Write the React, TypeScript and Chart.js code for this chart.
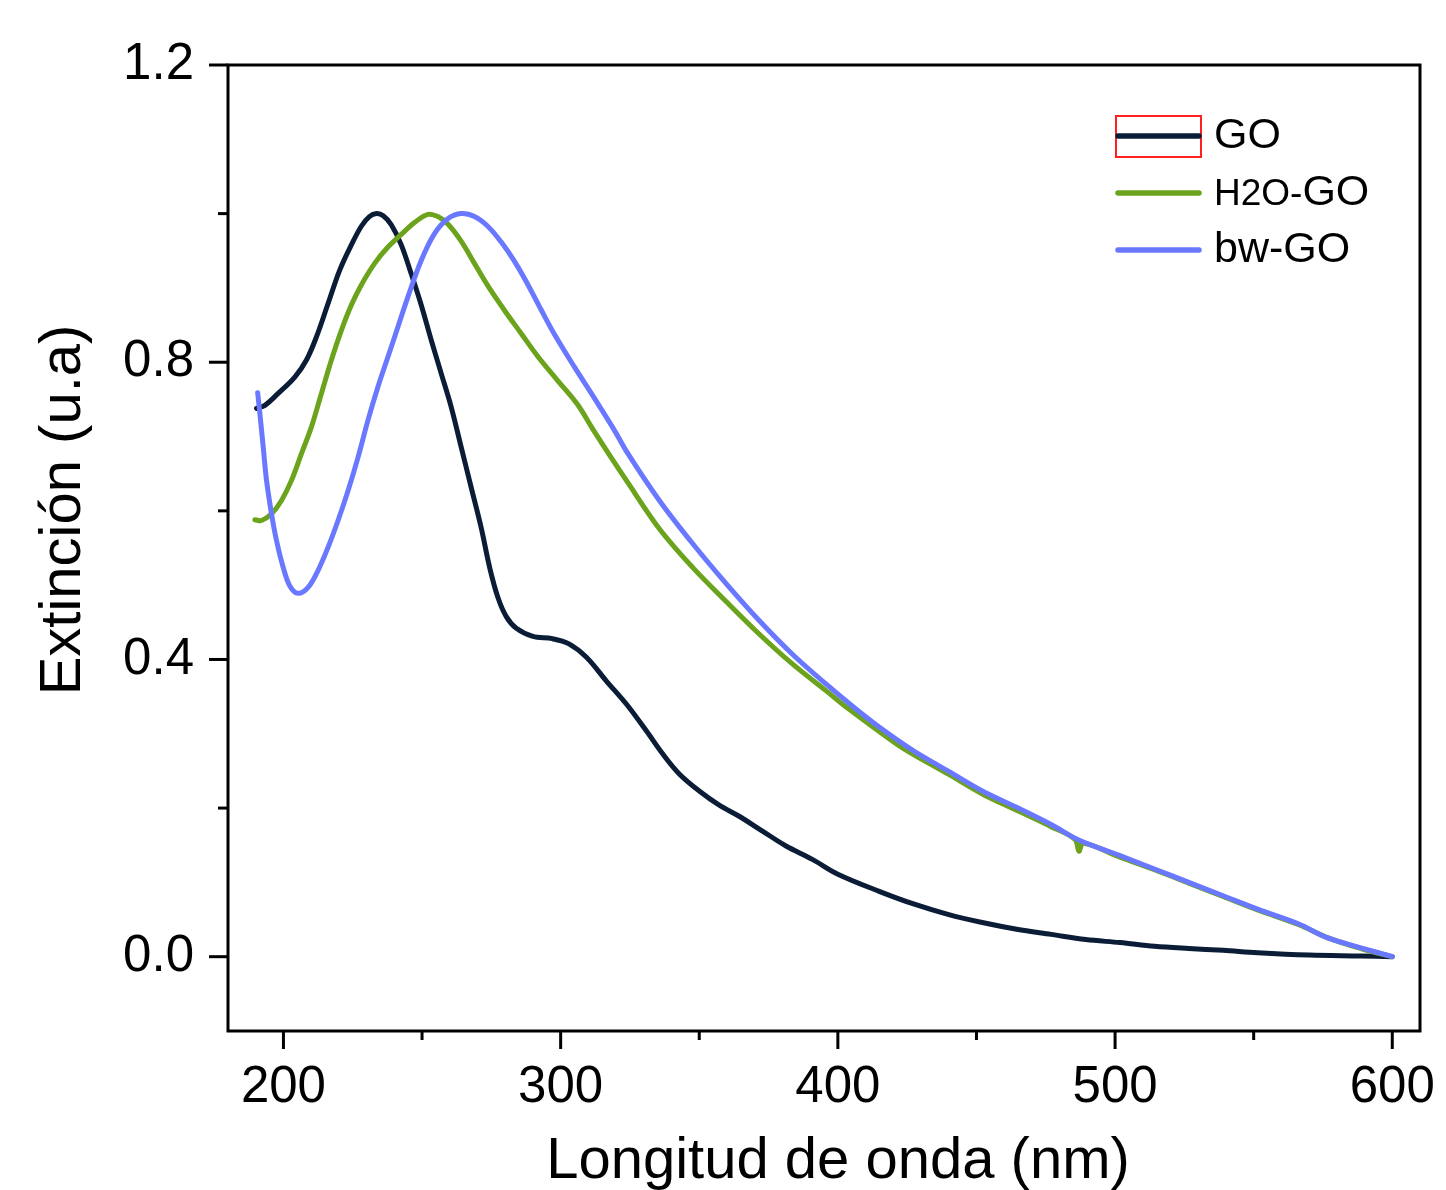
import React, { useEffect, useRef } from 'react';
import { Chart, registerables } from 'chart.js';

Chart.register(...registerables);

const FONT = '"Liberation Sans", Arial, Helvetica, sans-serif';

// Series: GO
const goWavelength = [190.3, 193.3, 198.1, 204.1, 208.3, 211.9, 216.1, 220.3, 224.5, 228.1, 231, 233.6, 236, 238.9, 242.5, 246.1, 249.7, 253.3, 256.9, 260.5, 264.1, 267.7, 271.3, 274.5, 277.5, 280.5, 284, 290, 297, 303, 309.3, 316.5, 323.7, 330.9, 336.8, 342.8, 350, 357.2, 364.4, 372.8, 381.3, 390.8, 400, 414.9, 427.3, 439.7, 452.1, 464.5, 476.9, 489.4, 501.8, 514.2, 526.6, 539, 551.4, 570, 588.7, 600];
const goExtinction = [0.738, 0.742, 0.758, 0.78, 0.803, 0.834, 0.879, 0.924, 0.958, 0.983, 0.996, 1.0, 0.997, 0.985, 0.958, 0.919, 0.877, 0.83, 0.785, 0.74, 0.686, 0.632, 0.578, 0.522, 0.482, 0.457, 0.442, 0.431, 0.428, 0.421, 0.403, 0.371, 0.34, 0.304, 0.273, 0.246, 0.223, 0.204, 0.189, 0.169, 0.149, 0.131, 0.111, 0.088, 0.071, 0.057, 0.046, 0.037, 0.03, 0.023, 0.019, 0.014, 0.011, 0.0086, 0.0054, 0.0023, 0.001, 0];

// Series: H2O-GO
const h2oWavelength = [189.7, 192.1, 195.7, 199.3, 202.9, 206.5, 210.1, 213.7, 217.3, 220.9, 224.5, 228.1, 232.9, 237.7, 242.5, 247.3, 252.1, 255.7, 259.3, 264.1, 268.9, 273.7, 279.7, 285.7, 291.7, 299, 306.1, 311.6, 318, 323.7, 335.6, 347.6, 359.7, 371.7, 383.6, 395.7, 403, 420.9, 427.3, 439.7, 452.1, 464.5, 476.9, 485.5, 487, 488.5, 501.8, 514.2, 526.6, 539, 551.4, 566.3, 576.3, 588.7, 600];
const h2oExtinction = [0.588, 0.587, 0.596, 0.614, 0.641, 0.677, 0.713, 0.758, 0.803, 0.843, 0.877, 0.904, 0.933, 0.955, 0.972, 0.988, 0.999, 0.996, 0.986, 0.963, 0.933, 0.903, 0.87, 0.839, 0.808, 0.775, 0.743, 0.71, 0.673, 0.641, 0.576, 0.524, 0.478, 0.434, 0.394, 0.358, 0.336, 0.287, 0.272, 0.246, 0.219, 0.197, 0.175, 0.158, 0.142, 0.153, 0.134, 0.117, 0.099, 0.081, 0.063, 0.043, 0.026, 0.011, 0];

// Series: bw-GO
const bwWavelength = [190.7, 191.5, 192.7, 193.9, 195.7, 197.5, 199.9, 202.3, 205.3, 208.9, 212.5, 216.1, 219.7, 223.3, 226.9, 230.5, 234.1, 237.5, 240.1, 244.9, 249.7, 254.5, 259.3, 264.1, 268.9, 273.7, 278.5, 283.3, 288.1, 292.9, 297.7, 304.9, 312.1, 319.3, 324.1, 335.6, 347.6, 359.7, 371.7, 383.6, 395.7, 405.3, 414.9, 427.3, 439.7, 452.1, 464.5, 476.9, 486.9, 501.8, 514.2, 526.6, 539, 551.4, 566.3, 576.3, 588.7, 600];
const bwExtinction = [0.759, 0.731, 0.686, 0.641, 0.596, 0.56, 0.524, 0.499, 0.489, 0.497, 0.52, 0.551, 0.587, 0.627, 0.672, 0.722, 0.767, 0.805, 0.834, 0.888, 0.937, 0.973, 0.993, 1.0, 0.996, 0.983, 0.962, 0.936, 0.905, 0.871, 0.838, 0.794, 0.752, 0.709, 0.678, 0.614, 0.556, 0.502, 0.452, 0.407, 0.367, 0.337, 0.309, 0.277, 0.25, 0.223, 0.201, 0.178, 0.157, 0.136, 0.118, 0.1, 0.082, 0.064, 0.044, 0.026, 0.012, 0];

const seriesLabels = ['GO', 'H2O-GO', 'bw-GO'];
const seriesColors = ['#0a1c36', '#6ba31c', '#6a78ff'];

const xMajorTicks = [200, 300, 400, 500, 600];
const xMinorTicks = [250, 350, 450, 550];
const yMajorTicks = [0, 0.4, 0.8, 1.2];
const yMinorTicks = [0.2, 0.6, 1.0];

const xTitle = 'Longitud de onda (nm)';
const yTitle = 'Extinción (u.a)';

const toPoints = (xs: number[], ys: number[]) => xs.map((x, i) => ({ x, y: ys[i] }));

const framePlugin = {
  id: 'frameAndTicks',
  afterDatasetsDraw(chart: any) {
    const { ctx, chartArea, scales } = chart;
    const { left, right, top, bottom } = chartArea;
    const xs = scales.x;
    const ys = scales.y;
    ctx.save();
    ctx.strokeStyle = '#000';
    ctx.lineWidth = 3;
    ctx.lineCap = 'square';
    ctx.strokeRect(left, top, right - left, bottom - top);
    ctx.lineCap = 'butt';
    const seg = (x1: number, y1: number, x2: number, y2: number) => {
      ctx.beginPath();
      ctx.moveTo(x1, y1);
      ctx.lineTo(x2, y2);
      ctx.stroke();
    };
    yMajorTicks.forEach((v) => { const p = ys.getPixelForValue(v); seg(left - 19, p, left, p); });
    yMinorTicks.forEach((v) => { const p = ys.getPixelForValue(v); seg(left - 10, p, left, p); });
    xMajorTicks.forEach((v) => { const p = xs.getPixelForValue(v); seg(p, bottom, p, bottom + 18); });
    xMinorTicks.forEach((v) => { const p = xs.getPixelForValue(v); seg(p, bottom, p, bottom + 9); });
    ctx.restore();
  },
};

const titlesPlugin = {
  id: 'axisTitles',
  afterDraw(chart: any) {
    const { ctx } = chart;
    ctx.save();
    ctx.fillStyle = '#000';
    ctx.font = `58px ${FONT}`;
    ctx.textAlign = 'center';
    ctx.textBaseline = 'alphabetic';
    ctx.fillText(xTitle, 838, 1178);
    ctx.translate(80, 510);
    ctx.rotate(-Math.PI / 2);
    ctx.fillText(yTitle, 0, 0);
    ctx.restore();
  },
};

const legendPlugin = {
  id: 'customLegend',
  afterDraw(chart: any) {
    const { ctx } = chart;
    const rows = [136, 193, 250];
    ctx.save();
    ctx.strokeStyle = '#ff2020';
    ctx.lineWidth = 2;
    ctx.strokeRect(1116, 116, 85, 41);
    rows.forEach((yy, i) => {
      ctx.strokeStyle = seriesColors[i];
      ctx.lineWidth = 5.5;
      ctx.lineCap = 'round';
      ctx.beginPath();
      ctx.moveTo(1118, yy);
      ctx.lineTo(1199, yy);
      ctx.stroke();
    });
    ctx.fillStyle = '#000';
    ctx.textAlign = 'left';
    ctx.textBaseline = 'alphabetic';
    ctx.font = `43px ${FONT}`;
    ctx.fillText(seriesLabels[0], 1214, rows[0] + 12);
    const label = seriesLabels[1];
    const prefix = label.slice(0, 4);
    const rest = label.slice(4);
    ctx.font = `37px ${FONT}`;
    ctx.fillText(prefix, 1214, rows[1] + 12);
    const w = ctx.measureText(prefix).width;
    ctx.font = `43px ${FONT}`;
    ctx.fillText(rest, 1214 + w, rows[1] + 12);
    ctx.fillText(seriesLabels[2], 1214, rows[2] + 12);
    ctx.restore();
  },
};

export default function App() {
  const canvasRef = useRef<HTMLCanvasElement | null>(null);

  useEffect(() => {
    const canvas = canvasRef.current;
    if (!canvas) return;
    const datasets = [
      { xs: goWavelength, ys: goExtinction, order: 2 },
      { xs: h2oWavelength, ys: h2oExtinction, order: 1 },
      { xs: bwWavelength, ys: bwExtinction, order: 0 },
    ].map((s, i) => ({
      label: seriesLabels[i],
      data: toPoints(s.xs, s.ys),
      borderColor: seriesColors[i],
      backgroundColor: seriesColors[i],
      borderWidth: 5,
      pointRadius: 0,
      fill: false,
      tension: 0.35,
      borderJoinStyle: 'round' as const,
      borderCapStyle: 'round' as const,
      order: s.order,
    }));

    const chart = new Chart(canvas, {
      type: 'line',
      data: { datasets },
      options: {
        responsive: false,
        maintainAspectRatio: false,
        animation: false,
        layout: { padding: { left: 0, top: 65, right: 26, bottom: 0 } },
        plugins: {
          legend: { display: false },
          tooltip: { enabled: false },
        },
        scales: {
          x: {
            type: 'linear',
            min: 180,
            max: 610,
            afterBuildTicks: (s: any) => { s.ticks = xMajorTicks.map((v) => ({ value: v })); },
            afterFit: (s: any) => { s.height = 159; s.paddingLeft = 0; s.paddingRight = 0; },
            grid: { display: false, drawTicks: false },
            border: { display: false },
            ticks: {
              color: '#000',
              padding: 31,
              maxRotation: 0,
              autoSkip: false,
              font: { family: FONT, size: 51, lineHeight: 1 },
              callback: (v: any) => String(v),
            },
          },
          y: {
            type: 'linear',
            min: -0.1,
            max: 1.2,
            afterBuildTicks: (s: any) => { s.ticks = yMajorTicks.map((v) => ({ value: v })); },
            afterFit: (s: any) => { s.width = 228; s.paddingTop = 0; s.paddingBottom = 0; },
            grid: { display: false, drawTicks: false },
            border: { display: false },
            ticks: {
              color: '#000',
              padding: 34,
              autoSkip: false,
              font: { family: FONT, size: 51, lineHeight: 1 },
              callback: (v: any) => Number(v).toFixed(1),
            },
          },
        },
      },
      plugins: [framePlugin, titlesPlugin, legendPlugin],
    });
    return () => chart.destroy();
  }, []);

  return (
    <div style={{ position: 'fixed', left: 0, top: 0, width: 1446, height: 1190, background: '#fff' }}>
      <canvas ref={canvasRef} width={1446} height={1190} style={{ display: 'block' }} />
    </div>
  );
}
